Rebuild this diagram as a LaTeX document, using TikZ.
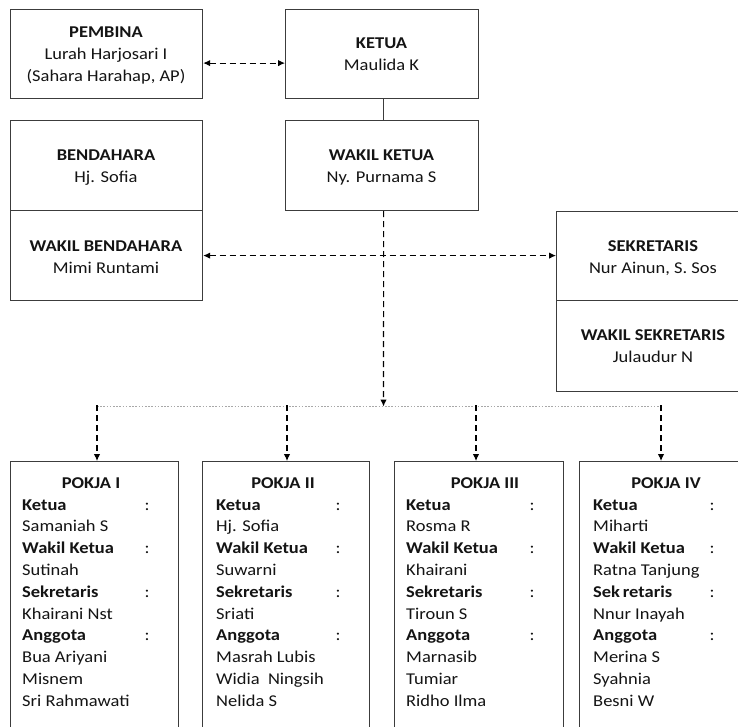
\documentclass[tikz,border=0pt]{standalone}
\usepackage{fontspec}
\setmainfont{Carlito}[FakeStretch=1.12]
\usetikzlibrary{arrows.meta}
\definecolor{boxgray}{HTML}{3C3C3C}
\definecolor{dotgray}{HTML}{A8A8A8}
\definecolor{ink}{HTML}{141414}
\begin{document}
\begin{tikzpicture}[x=1pt,y=-1pt,
  box/.style={draw=boxgray, line width=1.2pt, inner sep=0pt, anchor=north west},
  txt/.style={anchor=base, inner sep=0pt, text=ink, font=\fontsize{16.5}{22}\selectfont},
  btxt/.style={txt, font=\fontsize{16.5}{22}\selectfont\bfseries},
  lbl/.style={btxt, anchor=base west},
  nm/.style={txt, anchor=base west},
  colon/.style={txt, anchor=base},
  conn/.style={draw=black, line width=1.1pt, dash pattern=on 6pt off 4pt},
  tipend/.style={-{Latex[length=7pt,width=6.5pt]}},
  tipboth/.style={{Latex[length=7pt,width=6.5pt]}-{Latex[length=7pt,width=6.5pt]}},
]
\useasboundingbox (0,0) rectangle (738,726);
\fill[white] (0,0) rectangle (738,726);

% top boxes
\node[box, minimum width=192pt, minimum height=89pt] (pembina) at (10,9) {};
\node[box, minimum width=193pt, minimum height=89pt] (ketua) at (285,9) {};
\node[box, minimum width=192pt, minimum height=90pt] (bend) at (10,120) {};
\node[box, minimum width=192pt, minimum height=90pt] (wbend) at (10,210) {};
\node[box, minimum width=193pt, minimum height=90pt] (wketua) at (285,120) {};
\node[box, minimum width=196pt, minimum height=89pt] (sekr) at (556,211) {};
\node[box, minimum width=196pt, minimum height=91pt] (wsekr) at (556,300) {};

\node[btxt] (t1a) at (106,37.5) {PEMBINA};
\node[txt]  (t1b) at (106,59.5) {Lurah Harjosari I};
\node[txt]  (t1c) at (106,81.5) {(Sahara Harahap, AP)};

\node[btxt] (t2a) at (381.5,48.5) {KETUA};
\node[txt]  (t2b) at (381.5,70.5) {Maulida K};

\node[btxt] (t3a) at (106,160.5) {BENDAHARA};
\node[txt]  (t3b) at (106,182.5) {Hj. Sofia};

\node[btxt] (t4a) at (381.5,160.5) {WAKIL KETUA};
\node[txt]  (t4b) at (381.5,182.5) {Ny. Purnama S};

\node[btxt] (t5a) at (106,251) {WAKIL BENDAHARA};
\node[txt]  (t5b) at (106,273) {Mimi Runtami};

\node[btxt] (t6a) at (653,251) {SEKRETARIS};
\node[txt]  (t6b) at (653,273) {Nur Ainun, S. Sos};

\node[btxt] (t7a) at (653,340) {WAKIL SEKRETARIS};
\node[txt]  (t7b) at (653,362) {Julaudur N};

% connectors top
\draw[conn, tipboth] ([yshift=-9pt]pembina.east) -- ([yshift=-9pt]ketua.west);
\draw[draw=boxgray, line width=1.2pt] ([xshift=1.2pt]ketua.south) -- ([xshift=1.2pt]wketua.north);
\draw[conn, tipboth] (wbend.east) -- (wbend.east -| sekr.west);

% hub
\coordinate (hub) at (383.5,406.5);
\coordinate (d1) at (97,406.5);
\coordinate (d2) at (287,406.5);
\coordinate (d3) at (476,406.5);
\coordinate (d4) at (661,406.5);
\draw[conn, tipend] ([xshift=1.5pt]wketua.south) -- (hub);
\draw[draw=dotgray, line width=1.6pt, dash pattern=on 1.6pt off 1.6pt] (d1) -- (d4);

% POKJA boxes
\node[box, minimum width=168pt, minimum height=290pt] (p1) at (10,461) {};
\node[box, minimum width=167pt, minimum height=290pt] (p2) at (202,461) {};
\node[box, minimum width=169pt, minimum height=290pt] (p3) at (394,461) {};
\node[box, minimum width=173pt, minimum height=290pt] (p4) at (579,461) {};

\draw[conn, tipend] ([yshift=1.5pt]d1) -- (d1 |- p1.north);
\draw[conn, tipend] ([yshift=1.5pt]d2) -- (d2 |- p2.north);
\draw[conn, tipend] ([yshift=1.5pt]d3) -- (d3 |- p3.north);
\draw[conn, tipend] ([yshift=1.5pt]d4) -- (d4 |- p4.north);

% POKJA I
\node[btxt] (a0) at (91,488) {POKJA I};
\node[lbl] (a1) at (22,510) {Ketua};
\node[colon] (a1c) at (147,510) {:};
\node[nm] (a2) at (22,531.8) {Samaniah S};
\node[lbl] (a3) at (22,553.6) {Wakil Ketua};
\node[colon] (a3c) at (147,553.6) {:};
\node[nm] (a4) at (22,575.4) {Sutinah};
\node[lbl] (a5) at (22,597.2) {Sekretaris};
\node[colon] (a5c) at (147,597.2) {:};
\node[nm] (a6) at (22,619) {Khairani Nst};
\node[lbl] (a7) at (22,640.8) {Anggota};
\node[colon] (a7c) at (147,640.8) {:};
\node[nm] (a8) at (22,662.6) {Bua Ariyani};
\node[nm] (a9) at (22,684.4) {Misnem};
\node[nm] (a10) at (22,706.2) {Sri Rahmawati};

% POKJA II
\node[btxt] (b0) at (283,488) {POKJA II};
\node[lbl] (b1) at (216,510) {Ketua};
\node[colon] (b1c) at (338,510) {:};
\node[nm] (b2) at (216,531.8) {Hj. Sofia};
\node[lbl] (b3) at (216,553.6) {Wakil Ketua};
\node[colon] (b3c) at (338,553.6) {:};
\node[nm] (b4) at (216,575.4) {Suwarni};
\node[lbl] (b5) at (216,597.2) {Sekretaris};
\node[colon] (b5c) at (338,597.2) {:};
\node[nm] (b6) at (216,619) {Sriati};
\node[lbl] (b7) at (216,640.8) {Anggota};
\node[colon] (b7c) at (338,640.8) {:};
\node[nm] (b8) at (216,662.6) {Masrah Lubis};
\node[nm] (b9) at (216,684.4) {Widia\ \ Ningsih};
\node[nm] (b10) at (216,706.2) {Nelida S};

% POKJA III
\node[btxt] (c0) at (485,488) {POKJA III};
\node[lbl] (c1) at (406,510) {Ketua};
\node[colon] (c1c) at (532,510) {:};
\node[nm] (c2) at (406,531.8) {Rosma R};
\node[lbl] (c3) at (406,553.6) {Wakil Ketua};
\node[colon] (c3c) at (532,553.6) {:};
\node[nm] (c4) at (406,575.4) {Khairani};
\node[lbl] (c5) at (406,597.2) {Sekretaris};
\node[colon] (c5c) at (532,597.2) {:};
\node[nm] (c6) at (406,619) {Tiroun S};
\node[lbl] (c7) at (406,640.8) {Anggota};
\node[colon] (c7c) at (532,640.8) {:};
\node[nm] (c8) at (406,662.6) {Marnasib};
\node[nm] (c9) at (406,684.4) {Tumiar};
\node[nm] (c10) at (406,706.2) {Ridho Ilma};

% POKJA IV
\node[btxt] (e0) at (666,488) {POKJA IV};
\node[lbl] (e1) at (593,510) {Ketua};
\node[colon] (e1c) at (712,510) {:};
\node[nm] (e2) at (593,531.8) {Miharti};
\node[lbl] (e3) at (593,553.6) {Wakil Ketua};
\node[colon] (e3c) at (712,553.6) {:};
\node[nm] (e4) at (593,575.4) {Ratna Tanjung};
\node[lbl] (e5) at (593,597.2) {Sek\,retaris};
\node[colon] (e5c) at (712,597.2) {:};
\node[nm] (e6) at (593,619) {Nnur Inayah};
\node[lbl] (e7) at (593,640.8) {Anggota};
\node[colon] (e7c) at (712,640.8) {:};
\node[nm] (e8) at (593,662.6) {Merina S};
\node[nm] (e9) at (593,684.4) {Syahnia};
\node[nm] (e10) at (593,706.2) {Besni W};
\end{tikzpicture}
\end{document}
